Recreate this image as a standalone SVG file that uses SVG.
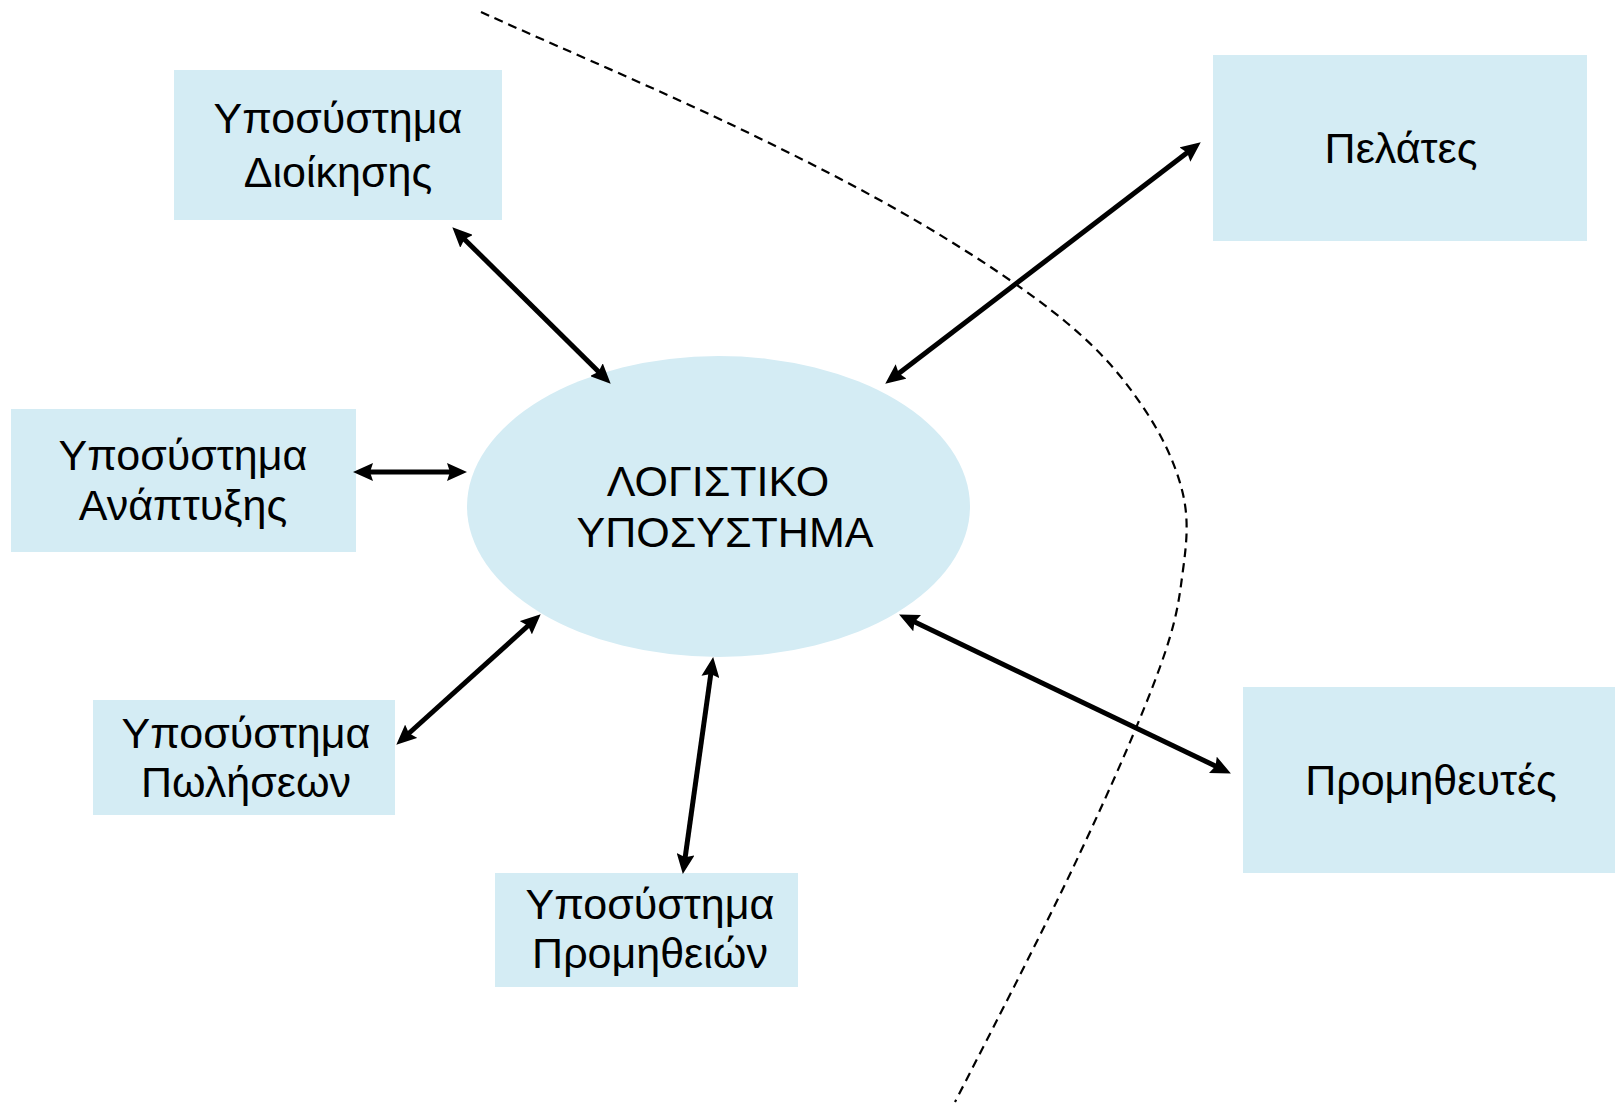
<svg xmlns="http://www.w3.org/2000/svg" width="1615" height="1104" viewBox="0 0 1615 1104">
<style>
.box{fill:#D4ECF4;}
.lbl{font-family:"Liberation Sans",Arial,sans-serif;font-size:43px;fill:#000;text-anchor:middle;}
.conn{stroke:#000;stroke-width:5;fill:none;marker-start:url(#ah);marker-end:url(#ah);}
.border{stroke:#000;stroke-width:2.2;fill:none;stroke-dasharray:9 6;}
</style>
<defs>
<marker id="ah" viewBox="0 0 20 18" refX="13" refY="9" markerWidth="20" markerHeight="18" markerUnits="userSpaceOnUse" orient="auto-start-reverse">
<path d="M0,0 L20,9 L0,18 L3,9 Z" fill="#000"/>
</marker>
</defs>
<rect width="1615" height="1104" fill="#fff"/>
<path class="border" d="M481,12 C522,31 655,88 728,123 C801,158 864,190 920,223 C976,256 1030,292 1067,323 C1104,354 1124,379 1143,407 C1162,435 1175,463 1182,490 C1189,517 1187,541 1183,570 C1179,600 1177,620 1160,667 C1143,714 1114,781 1080,853 C1046,926 976,1061 955,1102"/>
<g id="node-logistiko">
<ellipse cx="718.5" cy="506.5" rx="251.5" ry="150.5" class="box"/>
<text class="lbl" x="718" y="496">ΛΟΓΙΣΤΙΚΟ</text>
<text class="lbl" x="725" y="547">ΥΠΟΣΥΣΤΗΜΑ</text>
</g>
<g id="node-dioikisis">
<rect class="box" x="174" y="70" width="328" height="150"/>
<text class="lbl" x="338" y="133">Υποσύστημα</text>
<text class="lbl" x="338" y="187">Διοίκησης</text>
</g>
<g id="node-anaptyxis">
<rect class="box" x="11" y="409" width="345" height="143"/>
<text class="lbl" x="183" y="470">Υποσύστημα</text>
<text class="lbl" x="183" y="520">Ανάπτυξης</text>
</g>
<g id="node-poliseon">
<rect class="box" x="93" y="700" width="302" height="115"/>
<text class="lbl" x="246" y="748">Υποσύστημα</text>
<text class="lbl" x="246" y="797">Πωλήσεων</text>
</g>
<g id="node-promitheion">
<rect class="box" x="495" y="873" width="303" height="114"/>
<text class="lbl" x="650" y="919">Υποσύστημα</text>
<text class="lbl" x="650" y="968">Προμηθειών</text>
</g>
<g id="node-pelates">
<rect class="box" x="1213" y="55" width="374" height="186"/>
<text class="lbl" x="1401" y="163">Πελάτες</text>
</g>
<g id="node-promitheftes">
<rect class="box" x="1243" y="687" width="372" height="186"/>
<text class="lbl" x="1431" y="795">Προμηθευτές</text>
</g>
<g id="connectors">
<line class="conn" x1="457.3" y1="232.2" x2="605.7" y2="378.8"/>
<line class="conn" x1="360" y1="472" x2="460" y2="472"/>
<line class="conn" x1="401.5" y1="740" x2="535.5" y2="619"/>
<line class="conn" x1="683.8" y1="867.1" x2="712.2" y2="664"/>
<line class="conn" x1="1195.2" y1="146.6" x2="890.8" y2="379.4"/>
<line class="conn" x1="1224.6" y1="770.4" x2="905.4" y2="617.6"/>
</g>
</svg>
